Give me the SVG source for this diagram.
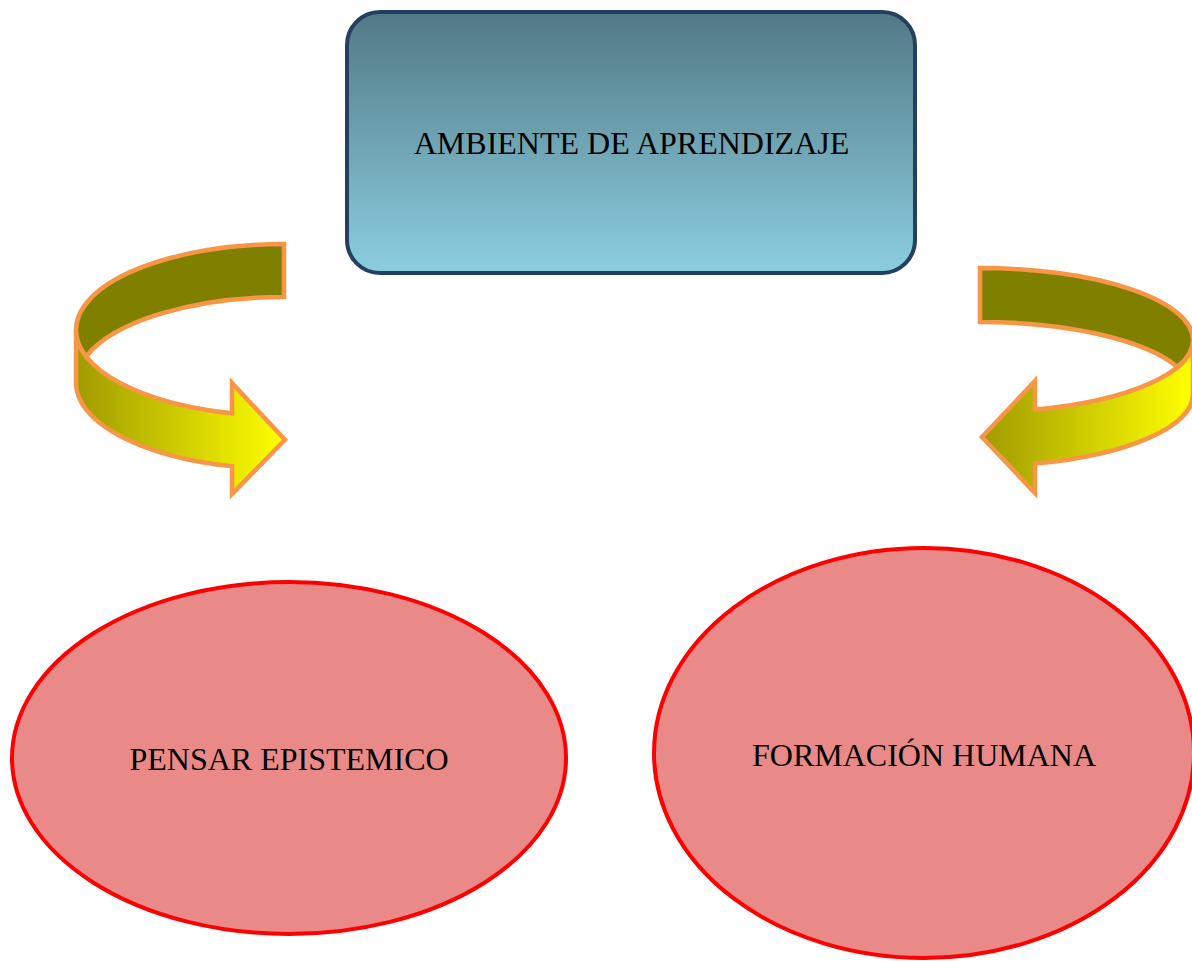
<svg xmlns="http://www.w3.org/2000/svg" width="1192" height="961" viewBox="0 0 1192 961">
<style>
.lbl{font-family:"Liberation Serif","Times New Roman",serif;font-size:32px;fill:#000;text-anchor:middle}
.ell{fill:#EA8A88;stroke:#FF0000;stroke-width:4}
.band{stroke:#F79646;stroke-width:4.5;stroke-linejoin:miter}
.dark{fill:#808000}
.light{fill:url(#yg)}
</style>
<defs>
<linearGradient id="bg" x1="0" y1="0" x2="0" y2="1">
<stop offset="0" stop-color="#527985"/>
<stop offset="1" stop-color="#8BCEE0"/>
</linearGradient>
<linearGradient id="yg" x1="0" y1="0" x2="1" y2="0">
<stop offset="0" stop-color="#A09B00"/>
<stop offset="1" stop-color="#FFFF00"/>
</linearGradient>
</defs>
<rect width="1192" height="961" fill="#FFFFFF"/>
<g id="connectors">
<g id="arrow-left">
<path class="band light" d="M 76 330 A 208 86 0 0 0 232 413.3 L 232 383 L 285 439.8 L 232 494 L 232 466.3 A 208 86 0 0 1 76 383 Z"/>
<path class="band dark" d="M 284 244 A 208 86 0 0 0 76 330 A 208 86 0 0 0 86.1 356.5 A 208 86 0 0 1 284 297 Z"/>
</g>
<g id="arrow-right">
<path class="band light" d="M 1193 340 A 213 72 0 0 1 1035 409.6 L 1035 381 L 982 437 L 1035 493 L 1035 463.6 A 213 72 0 0 0 1193 394 Z"/>
<path class="band dark" d="M 980 268 A 213 72 0 0 1 1193 340 A 213 72 0 0 1 1177.5 367 A 213 72 0 0 0 980 322 Z"/>
</g>
</g>
<g id="node-ambiente">
<rect x="347" y="12" width="568" height="261" rx="33" ry="33" fill="url(#bg)" stroke="#243F60" stroke-width="4"/>
<text class="lbl" x="631.5" y="153.5">AMBIENTE DE APRENDIZAJE</text>
</g>
<g id="node-pensar">
<ellipse class="ell" cx="289" cy="758" rx="277" ry="176"/>
<text class="lbl" x="289" y="769.5">PENSAR EPISTEMICO</text>
</g>
<g id="node-formacion">
<ellipse class="ell" cx="924" cy="753" rx="270" ry="205"/>
<text class="lbl" x="924" y="766">FORMACIÓN HUMANA</text>
</g>
</svg>
